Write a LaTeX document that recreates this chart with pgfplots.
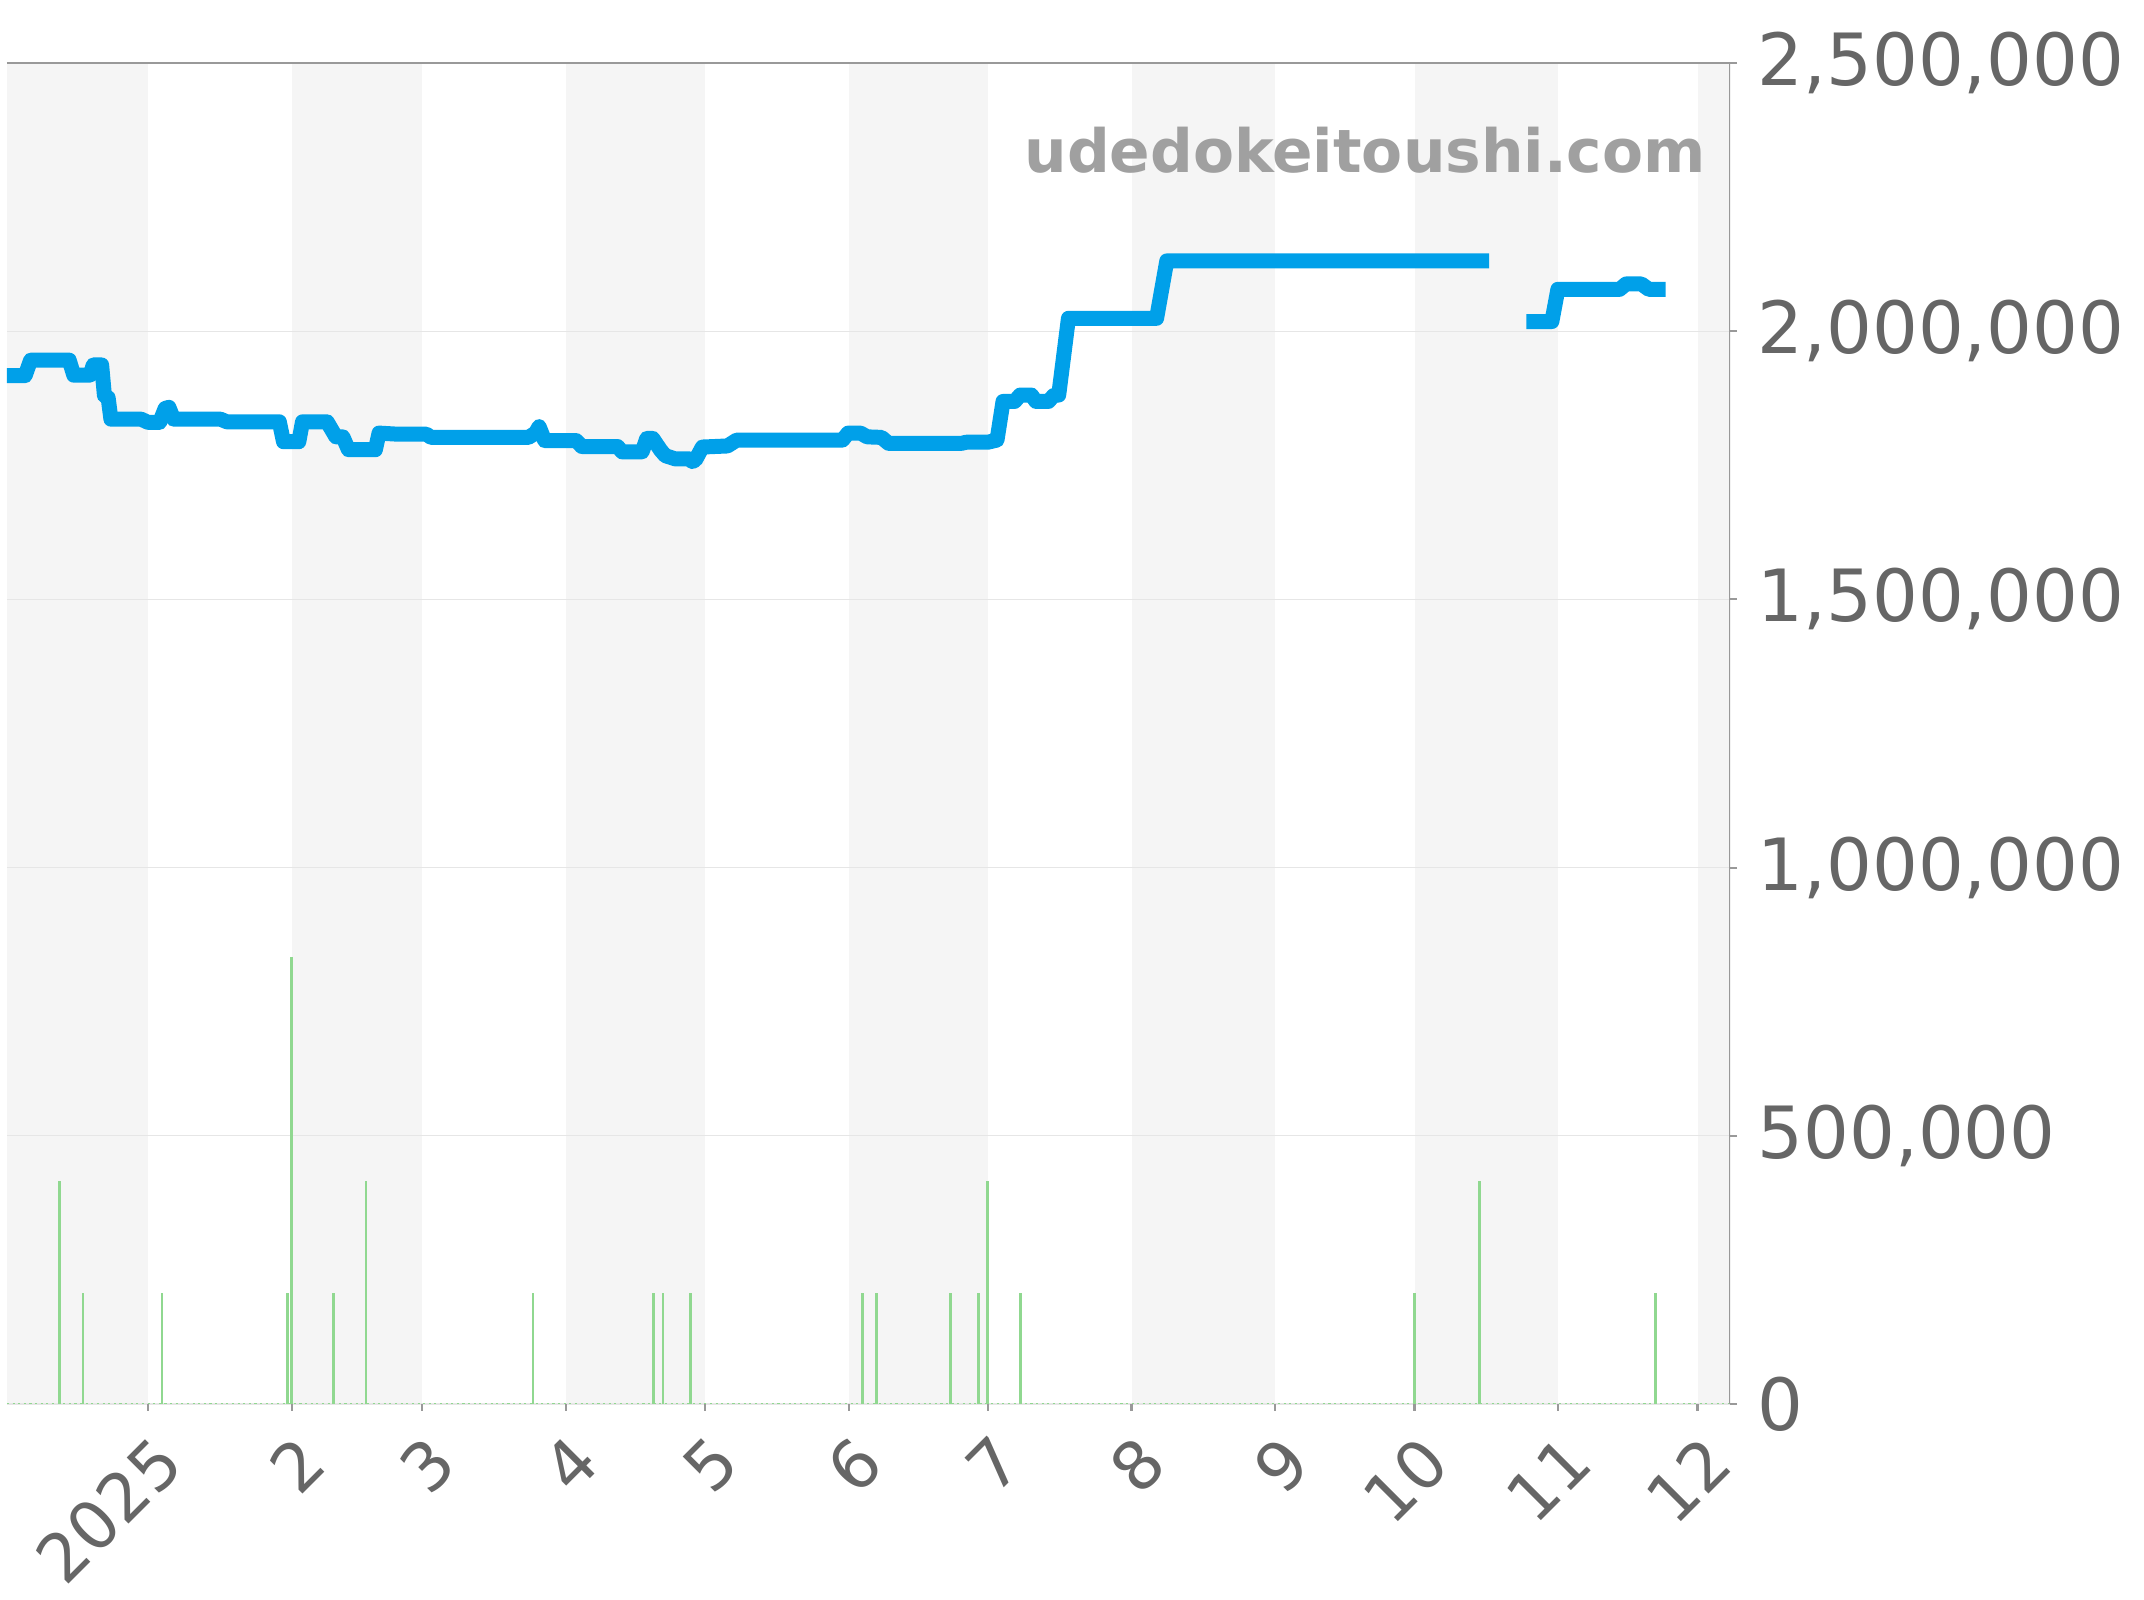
\documentclass[border=0pt]{standalone}
\usepackage{fontspec}
\setmainfont{DejaVu Sans}
\usepackage{pgfplots}
\pgfplotsset{compat=1.18}
\definecolor{priceblue}{RGB}{0,160,233}
\definecolor{volgreen}{RGB}{144,216,144}
\definecolor{bandgray}{RGB}{245,245,245}
\definecolor{gridgray}{RGB}{230,230,230}
\definecolor{spinegray}{RGB}{153,153,153}
\definecolor{labelgray}{RGB}{102,102,102}
\definecolor{markgray}{RGB}{160,160,160}

\begin{document}
\begin{tikzpicture}
\begin{axis}[
    at={(0,0)}, anchor=south west,
    scale only axis, width=17.23cm, height=13.41cm,
    xmin=-30.4, xmax=341, ymin=0, ymax=2500000,
    set layers,
    axis line style={draw=none},
    xtick={0,31,59,90,120,151,181,212,243,273,304,334},
    xticklabels={2025,2,3,4,5,6,7,8,9,10,11,12},
    ytick={0,500000,1000000,1500000,2000000,2500000},
    xtick pos=left, ytick pos=right,
    yticklabel pos=right,
    scaled y ticks=false,
    /pgf/number format/.cd, fixed, 1000 sep={,}, assume math mode=true,
    /pgfplots/.cd,
    ymajorgrids, grid style={gridgray, line width=0.3pt},
    tick align=outside, major tick length=0.07cm,
    tick style={spinegray, line width=0.6pt},
    ticklabel style={font=\fontsize{20.5}{24}\selectfont, text=labelgray},
    xticklabel style={font=\fontsize{19}{22}\selectfont, yshift=-0.2cm, xshift=0.03cm,
      rotate=45, anchor=north east, inner sep=0pt},
    yticklabel style={anchor=west, inner sep=0pt, xshift=0.2cm},
]
\begin{pgfonlayer}{axis background}
\fill[bandgray] (axis cs:-30.4,0) rectangle (axis cs:0,2500000);
\fill[bandgray] (axis cs:31,0) rectangle (axis cs:59,2500000);
\fill[bandgray] (axis cs:90,0) rectangle (axis cs:120,2500000);
\fill[bandgray] (axis cs:151,0) rectangle (axis cs:181,2500000);
\fill[bandgray] (axis cs:212,0) rectangle (axis cs:243,2500000);
\fill[bandgray] (axis cs:273,0) rectangle (axis cs:304,2500000);
\fill[bandgray] (axis cs:334,0) rectangle (axis cs:341,2500000);
\end{pgfonlayer}

% volume
\addplot[ycomb, volgreen, line width=0.8pt, mark=none] coordinates {
(-19,415000) (-14,207000) (3,207000) (30,207000) (31,833000) (40,207000)
(47,415000) (83,207000) (109,207000) (111,207000) (117,207000) (154,207000)
(157,207000) (173,207000) (179,207000) (181,415000) (188,207000) (273,207000)
(287,415000) (325,207000)};
\addplot[volgreen, densely dotted, line width=0.6pt, mark=none]
  coordinates {(-30.4,0) (341,0)};

% price
\addplot[priceblue, line width=0.15cm, line join=round, mark=none] coordinates {
(-30.4,1917000) (-26.5,1917000) (-25.3,1946000) (-17,1946000) (-16,1918000)
(-12.5,1918000) (-11.8,1937000) (-10,1937000) (-9.4,1880000) (-8.6,1876000)
(-8,1836000) (-1.5,1836000) (0,1830000) (2.5,1830000) (3.7,1856000)
(4.5,1858000) (5.5,1836000) (15.6,1836000) (17,1831000) (28.3,1831000)
(29.2,1794000) (32.5,1794000) (33.3,1831000) (38.6,1831000) (40.5,1803000)
(42,1803000) (43.2,1779000) (49,1779000) (49.8,1810000) (53.7,1808000)
(60,1808000) (61,1802000) (82,1802000) (83.5,1810000) (84.3,1822000)
(85.5,1796000) (92.3,1796000) (93.5,1785000) (101.2,1785000) (102.2,1775000)
(106.5,1775000) (107.5,1800000) (108.8,1800000) (110.5,1778000) (111.5,1768000)
(113.6,1762000) (116.6,1762000) (117.3,1757000) (118,1760000) (119.5,1784000)
(124.9,1786000) (126.9,1797000) (149.7,1797000) (150.9,1810000) (153.6,1810000)
(155,1803000) (158.1,1802000) (159.6,1791000) (175.4,1791000) (176.4,1793000)
(181,1793000) (183,1797000) (184.3,1869000) (186.8,1869000) (188,1881000)
(190.4,1881000) (191.4,1869000) (194.1,1869000) (195.2,1880000) (196.3,1881000)
(198.4,2024000) (217.4,2024000) (219.6,2131000) (289.1,2131000)};
\addplot[priceblue, line width=0.15cm, line join=round, mark=none] coordinates {
(297.1,2018000) (302.6,2018000) (303.9,2078000) (317.2,2078000) (318.6,2088000)
(321.9,2088000) (323.5,2078000) (327.1,2078000)};

\draw[spinegray, line width=0.6pt] (rel axis cs:0,1) -- (rel axis cs:1,1) -- (rel axis cs:1,0);
\node[anchor=east, font=\bfseries\fontsize{17}{20}\selectfont, text=markgray]
  at (rel axis cs:0.993,0.935) {udedokeitoushi.com};
\end{axis}
\path (-0.07,-1.96) rectangle (21.37,14.04);
\end{tikzpicture}
\end{document}
